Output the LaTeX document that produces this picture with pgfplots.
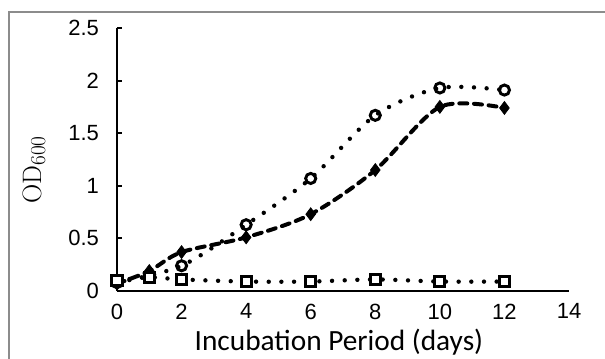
\documentclass[border=0pt]{standalone}
\usepackage{pgfplots}
\pgfplotsset{compat=1.18}
\usepackage{fontspec}
\newfontfamily\arial{Liberation Sans}
\newfontfamily\carlito{Carlito}
\begin{document}
\begin{tikzpicture}[x=1pt,y=1pt]
\useasboundingbox (-87.75,-50.25) rectangle (366,218.25);
\clip (-87.75,-50.25) rectangle (366,218.25);
\draw[color={rgb,255:red,140;green,140;blue,140}, line width=1.6pt] (-81,209.25) rectangle (380,-70);
\begin{axis}[
  at={(0pt,0pt)}, anchor=south west,
  scale only axis, width=339pt, height=197.25pt,
  xmin=0, xmax=14, ymin=0, ymax=2.5,
  axis x line*=bottom, axis y line*=left,
  axis line style={line width=1.4pt, -},
  xtick={0,2,...,14}, ytick={0,0.5,1,1.5,2,2.5},
  tick align=inside,
  xtick style={draw=none},
  ytick style={line width=1.4pt, black},
  major tick length=4pt,
  /pgf/number format/assume math mode=true,
  ticklabel style={font=\arial\fontsize{16.5}{19}\selectfont},
  yticklabel style={xshift=-10pt},
  xticklabel style={yshift=-6pt},
  xlabel={Incubation Period (days)},
  xlabel style={font=\carlito\fontsize{22}{26}\selectfont, at={(rel axis cs:0.491,0)}, anchor=center, yshift=-38pt},
  clip=false,
]
\addplot[black, line width=3pt, dash pattern=on 6pt off 5pt, line cap=round, smooth, tension=0.5,
  mark=diamond*, mark size=4.8pt, mark options={solid, line width=0.6pt, fill=black}]
  coordinates {(0,0.07)(1,0.19)(2,0.37)(4,0.51)(6,0.73)(8,1.15)(10,1.75)(12,1.74)};
\addplot[black, line width=3.3pt, dash pattern=on 0pt off 9.5pt, line cap=round, smooth, tension=0.5,
  mark=o, mark size=3.8pt, mark options={solid, fill=white, line width=2.2pt}]
  coordinates {(0,0.08)(2,0.24)(4,0.63)(6,1.07)(8,1.67)(10,1.93)(12,1.91)};
\addplot[black, line width=3.3pt, dash pattern=on 0pt off 9.5pt, line cap=round, smooth, tension=0.5,
  mark=square*, mark size=3.8pt, mark options={solid, fill=white, line width=2.2pt}]
  coordinates {(0,0.1)(1,0.13)(2,0.11)(4,0.09)(6,0.09)(8,0.11)(10,0.09)(12,0.09)};
\node[rotate=90, font=\fontsize{20}{24}\selectfont] at (axis cs:-2.57,1.15) {OD\raisebox{-0.35ex}{\fontsize{16}{16}\selectfont 600}};
\end{axis}
\end{tikzpicture}
\end{document}
